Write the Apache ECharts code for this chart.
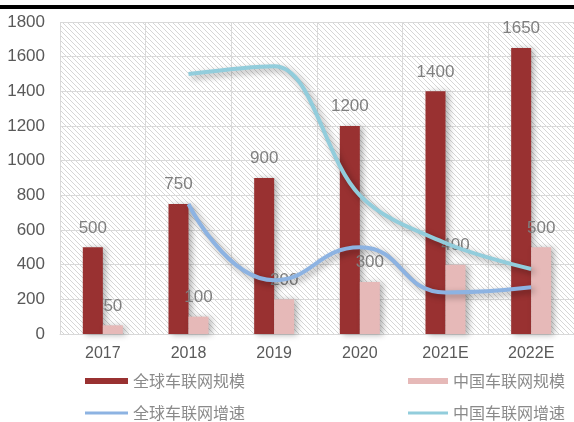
<!DOCTYPE html>
<html>
<head>
<meta charset="utf-8">
<style>
  html, body { margin: 0; padding: 0; background: #fff; }
  #chart { width: 574px; height: 422px; }
</style>
<script src="https://cdn.jsdelivr.net/npm/echarts@6/dist/echarts.min.js"></script>
</head>
<body>
<div id="chart"></div>
<script>
// Connected-vehicle market: scale bars plus growth curves
const years = ['2017', '2018', '2019', '2020', '2021E', '2022E'];
const globalScale = [500, 750, 900, 1200, 1400, 1650];
const chinaScale = [50, 100, 200, 300, 400, 500];
const globalGrowth = [null, 750, 310, 500, 240, 270];
const chinaGrowth = [null, 1500, 1545, 800, 525, 375];
const yTicks = { min: 0, max: 1800, interval: 200 };

const seriesNames = ['全球车联网规模', '中国车联网规模', '全球车联网增速', '中国车联网增速'];

// diagonal hatch for the plotting area
function hatchPattern() {
  const s = 5;
  const c = document.createElement('canvas');
  c.width = s; c.height = s;
  const g = c.getContext('2d');
  g.fillStyle = '#ffffff';
  g.fillRect(0, 0, s, s);
  g.strokeStyle = '#d6d6d6';
  g.lineWidth = 1;
  for (let k = -1; k <= 1; k++) {
    g.beginPath();
    g.moveTo(k * s, 0);
    g.lineTo(k * s + s, s);
    g.stroke();
  }
  return { image: c, repeat: 'repeat' };
}

const chart = echarts.init(document.getElementById('chart'), null, { renderer: 'canvas' });

const labelStyle = {
  show: true,
  position: 'top',
  distance: 11,
  color: '#7f7f7f',
  fontSize: 17,
  fontFamily: 'Liberation Sans'
};
const barShadow = {
  shadowColor: 'rgba(0,0,0,0.3)',
  shadowBlur: 6,
  shadowOffsetX: 3,
  shadowOffsetY: 1
};
const lineShadow = {
  shadowColor: 'rgba(0,0,0,0.35)',
  shadowBlur: 6,
  shadowOffsetX: 3,
  shadowOffsetY: 3
};
const legendText = { color: '#8a8a8a', fontSize: 16, fontFamily: 'Noto Sans CJK SC' };

chart.setOption({
  animation: false,
  backgroundColor: '#ffffff',
  graphic: [{
    type: 'rect',
    shape: { x: 0, y: 5, width: 574, height: 4 },
    style: { fill: '#000' },
    z: 10
  }],
  grid: {
    left: 60, top: 22, width: 518, height: 312,
    show: true,
    backgroundColor: hatchPattern(),
    borderWidth: 0
  },
  legend: [
    { data: [seriesNames[0]], left: 80, top: 368, icon: 'rect', itemWidth: 43, itemHeight: 6, textStyle: legendText },
    { data: [seriesNames[1]], left: 403, top: 368, icon: 'rect', itemWidth: 40, itemHeight: 6, textStyle: legendText },
    { data: [seriesNames[2]], left: 80, top: 400, icon: 'rect', itemWidth: 43, itemHeight: 3, textStyle: legendText },
    { data: [seriesNames[3]], left: 403, top: 400, icon: 'rect', itemWidth: 40, itemHeight: 3, textStyle: legendText }
  ],
  xAxis: {
    type: 'category',
    data: years,
    axisLine: { show: true, lineStyle: { color: '#d9d9d9', width: 1 } },
    axisTick: { show: false },
    splitLine: { show: true, lineStyle: { color: '#d9d9d9', width: 1 } },
    axisLabel: { color: '#595959', fontSize: 16, fontFamily: 'Liberation Sans', margin: 12 }
  },
  yAxis: {
    type: 'value',
    min: yTicks.min, max: yTicks.max, interval: yTicks.interval,
    axisLine: { show: false },
    axisTick: { show: false },
    splitLine: { show: true, lineStyle: { color: '#d9d9d9', width: 1 } },
    axisLabel: {
      color: '#595959', fontSize: 17, fontFamily: 'Liberation Sans', margin: 15,
      formatter: (v) => String(v)
    }
  },
  series: [
    {
      name: seriesNames[0], type: 'bar', data: globalScale,
      barWidth: 20, barGap: '0%',
      itemStyle: Object.assign({ color: '#993131' }, barShadow),
      label: labelStyle, z: 2
    },
    {
      name: seriesNames[1], type: 'bar', data: chinaScale,
      barWidth: 20,
      itemStyle: Object.assign({ color: '#e6b9b8' }, barShadow),
      label: labelStyle, z: 2
    },
    {
      name: seriesNames[2], type: 'line', data: globalGrowth,
      smooth: 0.5, showSymbol: false, symbol: 'none',
      itemStyle: { color: '#8db3e2' },
      lineStyle: Object.assign({ color: '#8db3e2', width: 4 }, lineShadow),
      z: 3
    },
    {
      name: seriesNames[3], type: 'line', data: chinaGrowth,
      smooth: 0.35, showSymbol: false, symbol: 'none',
      itemStyle: { color: '#92cddc' },
      lineStyle: Object.assign({ color: '#92cddc', width: 4 }, lineShadow),
      z: 3
    }
  ]
});
</script>
</body>
</html>
